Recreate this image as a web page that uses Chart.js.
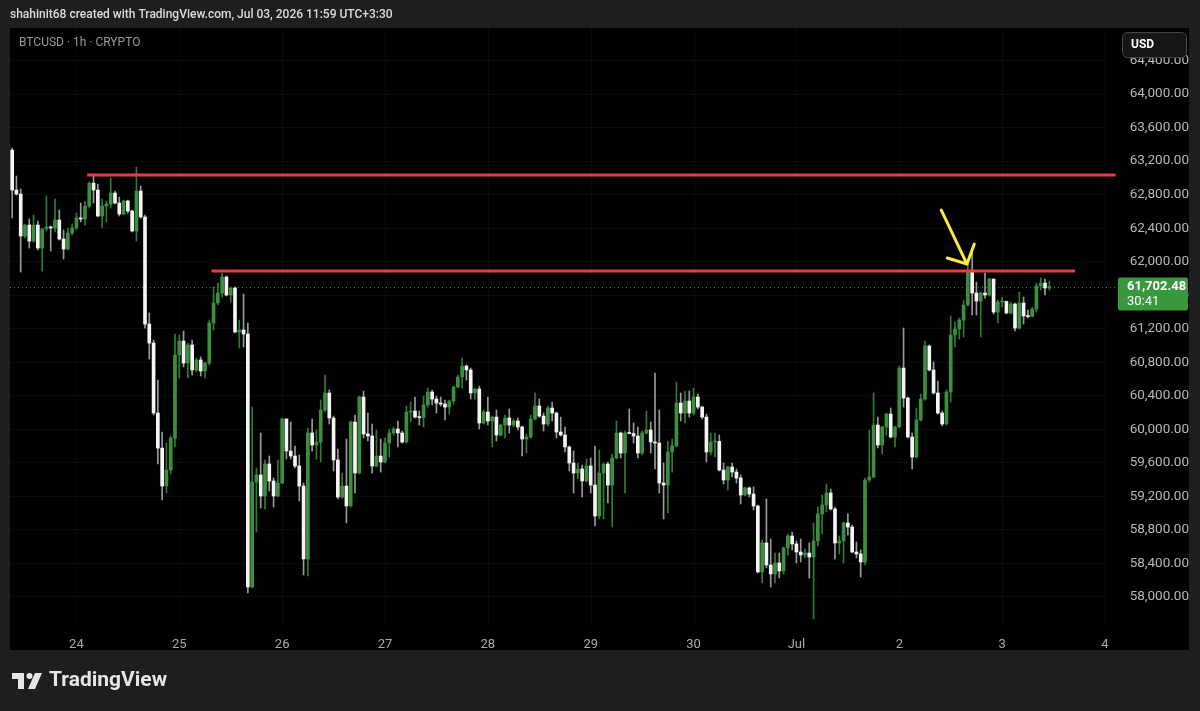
<!DOCTYPE html>
<html>
<head>
<meta charset="utf-8">
<script src="https://cdn.jsdelivr.net/npm/chart.js@4.4.1/dist/chart.umd.min.js"></script>
<style>
  html, body { margin: 0; padding: 0; background: #1e1e1e; }
  canvas { display: block; }
</style>
</head>
<body>
<canvas id="chart" width="1200" height="711"></canvas>
<script>
// BTCUSD 1h candles, Jun 23 09:00 -> Jul 3 11:00 (open of each = previous close)
var firstOpen = 63332;
var closes = [
  62855, 62807, 62306, 62437, 62246, 62437, 62163, 62390, 62414, 62402,
  62497, 62270, 62151, 62342, 62402, 62521, 62509, 62664, 62938, 62855,
  62545, 62664, 62688, 62819, 62700, 62569, 62724, 62604, 62366, 62843,
  62533, 61256, 61029, 60194, 59776, 59323, 59514, 59896, 60887, 61053,
  60791, 61006, 60708, 60827, 60696, 60791, 61268, 61507, 61626, 61817,
  61602, 61686, 61161, 61185, 61137, 58119, 59371, 59455, 59204, 59586,
  59383, 59204, 59359, 60123, 59741, 59681, 59562, 59323, 58453, 59956,
  59813, 59848, 60230, 60433, 60135, 59634, 59192, 59323, 59085, 60087,
  59478, 60385, 59944, 59920, 59562, 59681, 59610, 59836, 59956, 60004,
  59956, 59848, 60206, 60218, 60146, 60140, 60290, 60445, 60361, 60313,
  60302, 60265, 60337, 60504, 60624, 60755, 60708, 60433, 60481, 60075,
  60206, 60099, 60146, 59932, 60051, 60135, 60051, 60099, 60028, 59884,
  59908, 60123, 60278, 60158, 60063, 60254, 60194, 59968, 59932, 59789,
  59598, 59478, 59526, 59383, 59562, 59335, 58966, 59478, 59586, 59335,
  59658, 59956, 59717, 59956, 59950, 59920, 59717, 59956, 59992, 59848,
  59836, 59359, 59335, 59729, 59801, 60313, 60194, 60337, 60194, 60385,
  60265, 60146, 59729, 59848, 59855, 59514, 59395, 59550, 59490, 59419,
  59216, 59300, 59228, 59085, 58298, 58644, 58381, 58274, 58405, 58310,
  58584, 58727, 58632, 58536, 58501, 58524, 58477, 58668, 58990, 59097,
  59240, 59049, 58644, 58668, 58882, 58834, 58536, 58513, 58417, 59395,
  59431, 60051, 59813, 60028, 60182, 59908, 60028, 60731, 60373, 59908,
  59669, 60111, 60361, 60994, 60708, 60433, 60194, 60063, 60445, 61125,
  61197, 61304, 61483, 61876, 61626, 61530, 61626, 61602, 61793, 61399,
  61519, 61525, 61388, 61495, 61208, 61507, 61352, 61345, 61435, 61710,
  61745, 61686, 61702.48
];
var highs = [
  63356, 63022, 62867, 62449, 62509, 62557, 62485, 62402, 62783, 62426,
  62747, 62616, 62378, 62402, 62449, 62580, 62700, 62724, 62950, 63045,
  62926, 62747, 62724, 62998, 62843, 62771, 62735, 62735, 62616, 63129,
  62902, 62557, 61388, 61065, 60588, 59968, 59836, 59920, 61137, 61125,
  61173, 61030, 61065, 60851, 60863, 60803, 61304, 61698, 61745, 61865,
  61829, 61698, 61698, 61304, 61614, 61268, 60265, 59538, 59956, 59634,
  59681, 59419, 59634, 60135, 60123, 60087, 59801, 59693, 59359, 60016,
  60123, 59992, 60349, 60648, 60469, 60158, 59765, 59478, 59884, 60099,
  60170, 60397, 60457, 60194, 60063, 59992, 59884, 59896, 60004, 60028,
  60099, 59980, 60278, 60325, 60385, 60218, 60397, 60493, 60469, 60397,
  60385, 60349, 60349, 60516, 60648, 60851, 60767, 60731, 60493, 60516,
  60230, 60385, 60158, 60230, 60063, 60170, 60242, 60123, 60135, 60039,
  59944, 60170, 60433, 60361, 60194, 60278, 60325, 60206, 60146, 60028,
  59801, 59741, 59598, 59574, 59646, 59658, 59801, 59753, 59598, 59610,
  59705, 60099, 59968, 59980, 60242, 60075, 60028, 59980, 60218, 60087,
  60672, 60230, 59598, 59860, 59884, 60564, 60433, 60457, 60457, 60493,
  60421, 60278, 60182, 59956, 59956, 59932, 59598, 59562, 59598, 59526,
  59455, 59312, 59312, 59312, 59097, 58679, 59169, 58691, 58524, 58524,
  58596, 58751, 58775, 58668, 58691, 58572, 58644, 58882, 59073, 59216,
  59347, 59288, 59073, 58727, 58894, 58990, 58858, 58656, 58560, 59419,
  59992, 60433, 60146, 60039, 60194, 60254, 60039, 60755, 61208, 60385,
  59956, 60254, 60421, 61053, 61006, 60803, 60576, 60218, 60469, 61352,
  61280, 61328, 61542, 62020, 62139, 61757, 61638, 61865, 61805, 61698,
  61542, 61578, 61530, 61519, 61507, 61638, 61578, 61423, 61459, 61745,
  61805, 61793, 61769
];
var lows = [
  62521, 62795, 61876, 62282, 62163, 62234, 62139, 61888, 62366, 62127,
  62354, 62258, 62032, 62139, 62318, 62378, 62473, 62437, 62640, 62700,
  62533, 62402, 62473, 62640, 62688, 62545, 62557, 62580, 62354, 62246,
  62521, 61208, 60839, 60170, 59586, 59157, 59240, 59467, 59789, 60612,
  60743, 60612, 60648, 60684, 60636, 60612, 60767, 61185, 61483, 61578,
  61590, 61519, 61149, 60970, 60982, 58048, 58107, 58775, 59061, 59049,
  59264, 59073, 59192, 59347, 59646, 59646, 59538, 59145, 58262, 58250,
  59741, 59646, 59610, 60206, 60063, 59502, 59169, 59180, 58883, 59073,
  59240, 59467, 59896, 59860, 59478, 59550, 59490, 59598, 59669, 59932,
  59789, 59836, 59836, 60087, 60135, 60051, 60028, 60265, 60290, 60194,
  60278, 60111, 60182, 60302, 60493, 60493, 60588, 60361, 60361, 60004,
  60063, 60051, 59789, 59860, 59920, 59896, 59956, 60028, 59992, 59681,
  59717, 59896, 60111, 60146, 59980, 60039, 60099, 59896, 59920, 59729,
  59502, 59240, 59407, 59192, 59371, 59240, 58847, 58930, 58930, 59121,
  58835, 59646, 59658, 59240, 59944, 59836, 59658, 59693, 59944, 59717,
  59526, 59240, 58930, 59001, 59490, 59789, 60099, 60075, 60146, 60170,
  60242, 60123, 59610, 59693, 59669, 59502, 59347, 59276, 59431, 59359,
  59109, 59204, 59192, 59037, 58286, 58167, 58346, 58119, 58167, 58226,
  58274, 58501, 58560, 58405, 58417, 58465, 58226, 57737, 58608, 58751,
  59013, 59037, 58453, 58513, 58405, 58739, 58524, 58465, 58238, 58381,
  59371, 59419, 59777, 59705, 59932, 59896, 59789, 60016, 60265, 59896,
  59526, 59658, 60099, 60349, 60696, 60421, 60182, 60039, 60051, 60325,
  60982, 61077, 61101, 61471, 61364, 61364, 61101, 61566, 61590, 61376,
  61268, 61459, 61376, 61376, 61173, 61197, 61256, 61328, 61340, 61399,
  61662, 61602, 61662
];

// time axis: candle index of each midnight and its label
var dayTicks = [15, 39, 63, 87, 111, 135, 159, 183, 207, 231, 255];
var dayLabels = ['24', '25', '26', '27', '28', '29', '30', 'Jul', '2', '3', '4'];
var priceTicks = [58000, 58400, 58800, 59200, 59600, 60000, 60400, 60800,
                  61200, 61600, 62000, 62400, 62800, 63200, 63600, 64000, 64400];

// drawn resistance levels (price, from candle, to candle)
var levelPrices = [63034, 61888];
var levelFrom = [17.5, 46.5];
var levelTo = [257.5, 248];

// yellow arrow (candle index, price)
var arrowTail = [216.8, 62616];
var arrowTip = [222.8, 61972];
var arrowWingL = [218.2, 62044];
var arrowWingR = [224.5, 62210];

var lastPrice = 61702.48;
var countdown = '30:41';

var UP = '#3b8f3f', UP_WICK = '#2f7d33', DOWN = '#f5f5f5', DOWN_WICK = '#9a9a9a';
var GRID = 'rgba(255,255,255,0.04)';

var opens = closes.map(function (c, i) { return i === 0 ? firstOpen : closes[i - 1]; });
var isUp = closes.map(function (c, i) { return c >= opens[i]; });
var bodies = closes.map(function (c, i) { return { x: i, y: [opens[i], c] }; });
var wicks = closes.map(function (c, i) {
  return { x: i, y: [Math.min(lows[i], opens[i], c), Math.max(highs[i], opens[i], c)] };
});

function fmt(v) {
  return v.toLocaleString('en-US', { minimumFractionDigits: 2, maximumFractionDigits: 2 });
}

var decor = {
  id: 'decor',
  beforeDraw: function (chart) {
    var ctx = chart.ctx;
    var ys = chart.scales.y, xs = chart.scales.x;
    ctx.save();
    ctx.fillStyle = '#1e1e1e';
    ctx.fillRect(0, 0, chart.width, chart.height);
    ctx.fillStyle = '#000000';
    ctx.fillRect(xs.left, ys.top, ys.right - xs.left, xs.bottom - ys.top);
    ctx.restore();
  },
  beforeDatasetsDraw: function (chart) {
    var ctx = chart.ctx, ys = chart.scales.y, xs = chart.scales.x;
    ctx.save();
    // vertical day grid lines
    ctx.strokeStyle = GRID;
    ctx.lineWidth = 1;
    dayTicks.forEach(function (d) {
      var gx = Math.round(xs.getPixelForValue(d)) + 0.5;
      ctx.beginPath();
      ctx.moveTo(gx, ys.top);
      ctx.lineTo(gx, ys.bottom);
      ctx.stroke();
    });
    // last price dotted line
    var py = Math.round(ys.getPixelForValue(lastPrice)) + 0.5;
    ctx.strokeStyle = '#2f8a35';
    ctx.setLineDash([1, 3]);
    ctx.beginPath();
    ctx.moveTo(xs.left, py);
    ctx.lineTo(ys.left + 13, py);
    ctx.stroke();
    ctx.restore();
  },
  afterDatasetsDraw: function (chart) {
    var ctx = chart.ctx, ys = chart.scales.y, xs = chart.scales.x;
    ctx.save();
    ctx.strokeStyle = '#f23645';
    ctx.lineWidth = 3;
    for (var i = 0; i < levelPrices.length; i++) {
      var y = ys.getPixelForValue(levelPrices[i]);
      ctx.beginPath();
      ctx.moveTo(xs.getPixelForValue(levelFrom[i]), y);
      ctx.lineTo(xs.getPixelForValue(levelTo[i]), y);
      ctx.stroke();
    }
    function pt(p) { return [xs.getPixelForValue(p[0]), ys.getPixelForValue(p[1])]; }
    var t = pt(arrowTail), h = pt(arrowTip), l = pt(arrowWingL), r = pt(arrowWingR);
    ctx.strokeStyle = '#ffeb3b';
    ctx.lineWidth = 3;
    ctx.lineCap = 'round';
    ctx.lineJoin = 'round';
    ctx.beginPath();
    ctx.moveTo(t[0], t[1]); ctx.lineTo(h[0], h[1]);
    ctx.moveTo(l[0], l[1]); ctx.lineTo(h[0], h[1]); ctx.lineTo(r[0], r[1]);
    ctx.stroke();
    ctx.restore();
  },
  afterDraw: function (chart) {
    var ctx = chart.ctx, ys = chart.scales.y, xs = chart.scales.x;
    ctx.save();
    // last price label
    var py = ys.getPixelForValue(lastPrice);
    ctx.fillStyle = '#39983d';
    ctx.beginPath();
    ctx.roundRect(ys.left + 13, py - 9, 70, 33, 2);
    ctx.fill();
    ctx.fillStyle = '#ffffff';
    ctx.textBaseline = 'middle';
    ctx.textAlign = 'left';
    ctx.font = 'bold 13px Roboto';
    ctx.fillText(fmt(lastPrice), ys.left + 22, py);
    ctx.font = '13px Roboto';
    ctx.fillText(countdown, ys.left + 22, py + 15);

    // currency button
    ctx.fillStyle = '#151515';
    ctx.strokeStyle = '#4a4a4a';
    ctx.lineWidth = 1;
    ctx.beginPath();
    ctx.roundRect(ys.left + 17.5, ys.top + 4.5, 64, 25, 5);
    ctx.fill();
    ctx.stroke();
    ctx.fillStyle = '#ffffff';
    ctx.font = 'bold 12px Roboto';
    ctx.fillText('USD', ys.left + 26, ys.top + 17);

    // header texts
    ctx.fillStyle = '#dcdcdc';
    ctx.font = '500 12px Roboto';
    ctx.fillText('shahinit68 created with TradingView.com, Jul 03, 2026 11:59 UTC+3:30', 10, 15);
    ctx.fillStyle = '#9a9a9a';
    ctx.font = '12px Roboto';
    ctx.fillText('BTCUSD \u00b7 1h \u00b7 CRYPTO', 19, 43);

    // TradingView logo
    ctx.fillStyle = '#e6e6e6';
    ctx.fillRect(12, 673, 12, 6);
    ctx.fillRect(18, 673, 6, 16);
    ctx.beginPath();
    ctx.arc(29.5, 676, 3, 0, Math.PI * 2);
    ctx.fill();
    ctx.beginPath();
    ctx.moveTo(35, 673); ctx.lineTo(42, 673); ctx.lineTo(35, 689); ctx.lineTo(28, 689);
    ctx.closePath();
    ctx.fill();
    ctx.font = 'bold 21px Roboto';
    ctx.fillText('TradingView', 49, 681);
    ctx.restore();
  }
};

new Chart(document.getElementById('chart'), {
  type: 'bar',
  data: {
    datasets: [
      {
        data: bodies,
        backgroundColor: isUp.map(function (u) { return u ? UP : DOWN; }),
        barThickness: 3,
        minBarLength: 1,
        grouped: false,
        borderWidth: 0
      },
      {
        data: wicks,
        backgroundColor: isUp.map(function (u) { return u ? UP_WICK : DOWN_WICK; }),
        barThickness: 1,
        grouped: false,
        borderWidth: 0
      }
    ]
  },
  options: {
    responsive: false,
    animation: false,
    devicePixelRatio: 1,
    layout: { padding: { left: 10, right: 11, top: 28, bottom: 61 } },
    plugins: { legend: { display: false }, tooltip: { enabled: false } },
    scales: {
      x: {
        type: 'linear',
        min: -0.5,
        max: 255,
        offset: false,
        border: { display: false },
        grid: { display: false },
        ticks: {
          color: '#a9a9a9',
          font: { family: 'Roboto', size: 13 },
          padding: 4,
          maxRotation: 0,
          autoSkip: false,
          callback: function (v) {
            var k = dayTicks.indexOf(v);
            return k >= 0 ? dayLabels[k] : '';
          }
        },
        afterBuildTicks: function (s) {
          s.ticks = dayTicks.map(function (v) { return { value: v }; });
        },
        afterFit: function (s) { s.height = 25; }
      },
      y: {
        type: 'linear',
        position: 'right',
        min: 57665,
        max: 64787,
        border: { display: false },
        grid: { color: GRID, drawTicks: false },
        ticks: {
          color: '#b8b8b8',
          font: { family: 'Roboto', size: 13.5 },
          padding: 20,
          crossAlign: 'far',
          callback: function (v) { return fmt(v); }
        },
        afterBuildTicks: function (s) {
          s.ticks = priceTicks.map(function (v) { return { value: v }; });
        },
        afterFit: function (s) { s.width = 84; }
      }
    }
  },
  plugins: [decor]
});
</script>
</body>
</html>
